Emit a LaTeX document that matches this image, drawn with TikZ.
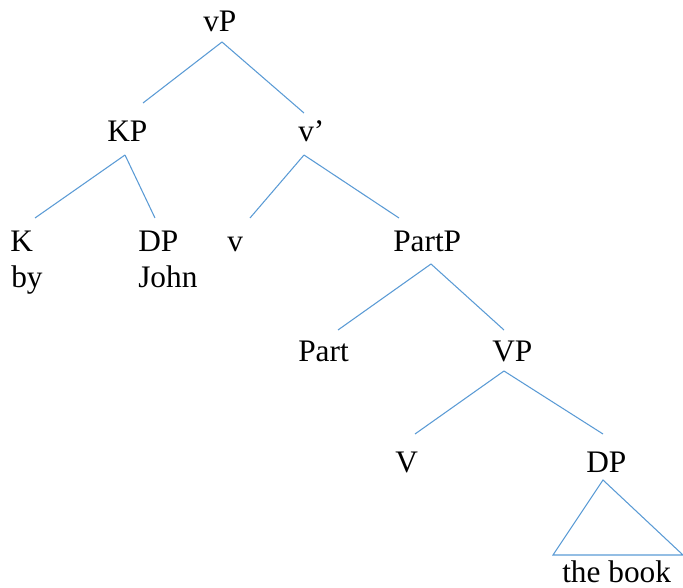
\documentclass[tikz,border=0pt]{standalone}
\usepackage{fontspec}
\setmainfont{Liberation Serif}
\usepackage{tikz}
\definecolor{treeblue}{RGB}{91,155,213}

\begin{document}
\begin{tikzpicture}[x=0.75pt,y=0.75pt,yscale=-1,xscale=1,
  label/.style={anchor=base west,inner sep=0pt,font=\fontsize{23.5}{28}\selectfont},
  branch/.style={color=treeblue,line width=0.8pt}]
\useasboundingbox (0,0) rectangle (683,588);

% Text Node
\draw (203,32) node [label] (vP) {vP};
% Text Node
\draw (107,142) node [label] (KP) {KP};
% Text Node
\draw (298,142) node [label] (vbar) {v’};
% Text Node
\draw (10,252) node [label] (K) {K};
\draw (11,288) node [label] (by) {by};
% Text Node
\draw (138,252) node [label] (DPa) {DP};
\draw (138,288) node [label] (John) {John};
% Text Node
\draw (227,252) node [label] (v) {v};
% Text Node
\draw (393,252) node [label] (PartP) {PartP};
% Text Node
\draw (298,362) node [label] (Part) {Part};
% Text Node
\draw (492,362) node [label] (VP) {VP};
% Text Node
\draw (395,473) node [label] (V) {V};
% Text Node
\draw (586,473) node [label] (DPb) {DP};
% Text Node
\draw (562,582) node [label] (book) {the book};

% branch ends
\coordinate (vP-s) at (222,42);
\coordinate (KP-n) at (143,103);  \coordinate (vbar-n) at (304,113);
\coordinate (KP-s) at (125,155);
\coordinate (K-n) at (35,218);    \coordinate (DPa-n) at (155,218);
\coordinate (vbar-s) at (304,155);
\coordinate (v-n) at (250,218);   \coordinate (PartP-n) at (399,218);
\coordinate (PartP-s) at (431,264);
\coordinate (Part-n) at (338,330); \coordinate (VP-n) at (504,330);
\coordinate (VP-s) at (504,371);
\coordinate (V-n) at (415,434);   \coordinate (DPb-n) at (603,434);
\coordinate (DPb-s) at (603,480);
\coordinate (book-w) at (553,555); \coordinate (book-e) at (683,555);

%Straight Lines
\draw [branch] (vP-s) -- (KP-n) (vP-s) -- (vbar-n);
\draw [branch] (KP-s) -- (K-n) (KP-s) -- (DPa-n);
\draw [branch] (vbar-s) -- (v-n) (vbar-s) -- (PartP-n);
\draw [branch] (PartP-s) -- (Part-n) (PartP-s) -- (VP-n);
\draw [branch] (VP-s) -- (V-n) (VP-s) -- (DPb-n);
%Shape: Triangle
\draw [branch] (DPb-s) -- (book-w) -- (book-e) -- cycle;

\end{tikzpicture}
\end{document}
